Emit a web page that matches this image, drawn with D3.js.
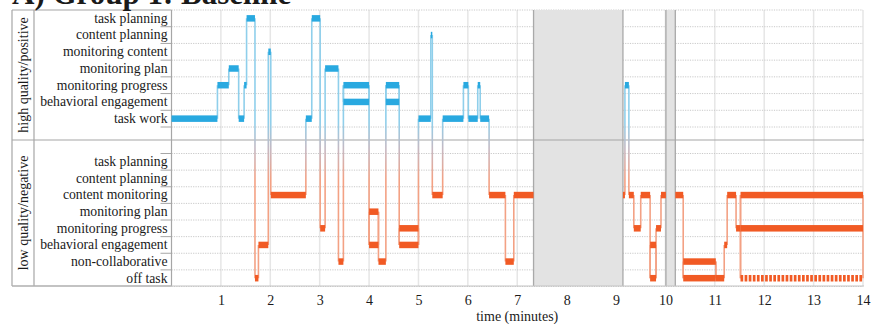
<!DOCTYPE html>
<html><head><meta charset="utf-8">
<script src="https://cdn.jsdelivr.net/npm/d3@7"></script>
<style>
body{margin:0;background:#fff}
svg{display:block}
text{font-family:"Liberation Serif","Times New Roman",Times,serif;fill:#1a1a1a}
</style>
</head><body>
<svg id="chart" width="872" height="324"></svg>
<script>
// ---------------- data ----------------
const title = "A) Group 1: Baseline";
const positiveCategories = ["task planning","content planning","monitoring content","monitoring plan","monitoring progress","behavioral engagement","task work"];
const negativeCategories = ["task planning","content planning","content monitoring","monitoring plan","monitoring progress","behavioral engagement","non-collaborative","off task"];
const panelLabels = ["high quality/positive","low quality/negative"];
const xTickValues = [1,2,3,4,5,6,7,8,9,10,11,12,13,14];
const xLabel = "time (minutes)";
const xDomain = [0,14];
// paused / excluded periods (minutes)
const pauseStart = [7.33, 10.01];
const pauseEnd   = [9.14, 10.20];
// coded segments: P = high quality/positive, N = low quality/negative, "~" = partially coded
const segStart = [0,0.93,1.16,1.36,1.47,1.52,1.69,1.76,1.96,2.01,2.72,2.84,3.01,3.11,3.38,3.48,4.00,4.19,4.34,4.61,5.00,5.25,5.28,5.49,5.91,6.01,6.20,6.25,6.43,6.76,6.93,9.14,9.18,9.26,9.36,9.50,9.69,9.81,9.91,10.20,10.36,11.02,11.19,11.25,11.43,11.52];
const segEnd   = [0.93,1.16,1.36,1.47,1.52,1.69,1.76,1.96,2.01,2.72,2.84,3.01,3.11,3.38,3.48,4.00,4.19,4.34,4.61,5.00,5.25,5.28,5.49,5.91,6.01,6.20,6.25,6.43,6.76,6.93,7.33,9.18,9.26,9.36,9.50,9.69,9.81,9.91,10.01,10.36,11.02,11.19,11.25,11.43,11.52,14];
const segCodes = [
  ["P:task work"],["P:monitoring progress"],["P:monitoring plan"],["P:task work"],["P:monitoring progress"],
  ["P:task planning"],["N:off task"],["N:behavioral engagement"],["P:monitoring content"],["N:content monitoring"],
  ["P:task work"],["P:task planning"],["N:monitoring progress"],["P:monitoring plan"],["N:non-collaborative"],
  ["P:monitoring progress","P:behavioral engagement"],["N:monitoring plan","N:behavioral engagement"],["N:non-collaborative"],
  ["P:monitoring progress","P:behavioral engagement"],["N:monitoring progress","N:behavioral engagement"],
  ["P:task work"],["P:content planning"],["N:content monitoring"],["P:task work"],["P:monitoring progress"],
  ["P:task work"],["P:monitoring progress"],["P:task work"],["N:content monitoring"],["N:non-collaborative"],
  ["N:content monitoring"],
  ["N:content monitoring"],["P:monitoring progress"],["N:content monitoring"],["N:monitoring progress"],["N:content monitoring"],
  ["N:behavioral engagement","N:off task"],["N:monitoring progress"],["N:content monitoring"],
  ["N:content monitoring"],["N:non-collaborative","N:off task"],["N:off task"],["N:behavioral engagement"],
  ["N:content monitoring"],["N:monitoring progress"],["N:content monitoring","N:monitoring progress","N:off task~"]
];

// ---------------- layout ----------------
const svg = d3.select("#chart");
const frameL = 12, sepX = 34, plotL = 171.5, plotR = 863;
const topY0 = 10, topY1 = 127, divY = 140, botY0 = 153.5, botY1 = 286.5, bottomY = 286;
const blue = "#29a9e0", orange = "#f15a24";

const x = d3.scaleLinear().domain(xDomain).range([plotL, plotR]);
const yTop = d3.scaleBand().domain(positiveCategories).range([topY0, topY1]);
const yBot = d3.scaleBand().domain(negativeCategories).range([botY0, botY1]);

function parse(code){
  const partial = code.endsWith("~");
  const c = partial ? code.slice(0,-1) : code;
  const panel = c.slice(0,1), name = c.slice(2);
  const sc = panel === "P" ? yTop : yBot;
  return {panel, name, partial, y: sc(name) + sc.bandwidth()/2};
}
const segments = segStart.map((s,i)=>({start:s, end:segEnd[i], codes:segCodes[i].map(parse)}));

// gradient for connectors
const defs = svg.append("defs");
const grad = defs.append("linearGradient").attr("id","conn").attr("gradientUnits","userSpaceOnUse")
  .attr("x1",0).attr("x2",0).attr("y1",122).attr("y2",180);
grad.append("stop").attr("offset","0%").attr("stop-color","#8fcfeb");
grad.append("stop").attr("offset","50%").attr("stop-color","#c9b7bf");
grad.append("stop").attr("offset","100%").attr("stop-color","#f3a184");

// vertical gridlines
svg.append("g").selectAll("line").data(xTickValues).join("line")
  .attr("x1",d=>x(d)).attr("x2",d=>x(d)).attr("y1",topY0).attr("y2",bottomY)
  .attr("stroke","#e6e6e6").attr("stroke-width",1.5);

// horizontal dotted gridlines (band edges)
const topEdges = positiveCategories.map(c=>yTop(c)).concat([topY1]);
const botEdges = negativeCategories.map(c=>yBot(c)).concat([botY1]);
svg.append("g").selectAll("line").data(topEdges.concat(botEdges)).join("line")
  .attr("x1",plotL).attr("x2",plotR).attr("y1",d=>d).attr("y2",d=>d)
  .attr("stroke","#c9c9c9").attr("stroke-width",1).attr("stroke-dasharray","1.2,1.2");

// pauses
const pg = svg.append("g");
pauseStart.forEach((s,i)=>{
  pg.append("rect").attr("x",x(s)).attr("y",topY0).attr("width",x(pauseEnd[i])-x(s)).attr("height",bottomY-topY0)
    .attr("fill","#e3e3e3");
  [s,pauseEnd[i]].forEach(v=>pg.append("line").attr("x1",x(v)).attr("x2",x(v)).attr("y1",topY0).attr("y2",bottomY)
    .attr("stroke","#a9a9a9").attr("stroke-width",1.3));
});

// frame
const fr = svg.append("g").attr("stroke","#a6a6a6").attr("stroke-width",1.2);
fr.append("line").attr("x1",frameL).attr("x2",frameL).attr("y1",topY0).attr("y2",bottomY);
fr.append("line").attr("x1",sepX).attr("x2",sepX).attr("y1",topY0).attr("y2",bottomY);
fr.append("line").attr("x1",plotL).attr("x2",plotL).attr("y1",topY0).attr("y2",bottomY);
fr.append("line").attr("x1",frameL).attr("x2",plotL).attr("y1",topY0).attr("y2",topY0);
fr.append("line").attr("x1",frameL).attr("x2",plotR+1).attr("y1",divY).attr("y2",divY);
fr.append("line").attr("x1",frameL).attr("x2",plotR+1).attr("y1",bottomY).attr("y2",bottomY).attr("stroke","#c4c4c4");
fr.append("line").attr("x1",frameL).attr("x2",plotL).attr("y1",bottomY).attr("y2",bottomY);
// label tick marks at band edges
svg.append("g").selectAll("line").data(topEdges.slice(1).concat(botEdges.slice(0,-1))).join("line")
  .attr("x1",plotL-11).attr("x2",plotL).attr("y1",d=>d).attr("y2",d=>d)
  .attr("stroke","#a6a6a6").attr("stroke-width",1);

// connectors
const conns = [];
for (let i=1;i<segments.length;i++){
  const p = segments[i-1], n = segments[i];
  if (Math.abs(p.end - n.start) < 1e-6){
    const ys = p.codes.concat(n.codes).map(c=>c.y);
    conns.push({t:n.start, y0:d3.min(ys), y1:d3.max(ys)});
  }
}
segments.forEach(s=>{ if (s.codes.length>1){ const ys=s.codes.map(c=>c.y);
  conns.push({t:s.start,y0:d3.min(ys),y1:d3.max(ys)}); conns.push({t:s.end,y0:d3.min(ys),y1:d3.max(ys)}); }});
svg.append("g").selectAll("line").data(conns).join("line")
  .attr("x1",d=>x(d.t)).attr("x2",d=>x(d.t)+0.01).attr("y1",d=>d.y0).attr("y2",d=>d.y1)
  .attr("stroke","url(#conn)").attr("stroke-width",1.6);

// bars
const barH = 6.5;
const bars = segments.flatMap(s=>s.codes.map(c=>({start:s.start,end:s.end,...c})));
svg.append("g").selectAll("rect").data(bars.filter(b=>!b.partial)).join("rect")
  .attr("x",d=>x(d.start)).attr("width",d=>Math.max(1.5,x(d.end)-x(d.start)))
  .attr("y",d=>d.y-barH/2).attr("height",barH)
  .attr("fill",d=>d.panel==="P"?blue:orange);
svg.append("g").selectAll("line").data(bars.filter(b=>b.partial)).join("line")
  .attr("x1",d=>x(d.start)).attr("x2",d=>x(d.end)).attr("y1",d=>d.y).attr("y2",d=>d.y)
  .attr("stroke",orange).attr("stroke-width",barH).attr("stroke-dasharray","2.7,1.4");

// category labels
const labelFont = 13.7;
function catAxis(scale){
  return d3.axisLeft(scale).tickSize(0).tickPadding(4);
}
[yTop,yBot].forEach(sc=>{
  const g = svg.append("g").attr("transform",`translate(${plotL},0)`).call(catAxis(sc));
  g.select(".domain").remove();
  g.selectAll("text").attr("font-size",labelFont).attr("font-family",null).style("fill","#1a1a1a");
});

// panel labels
svg.append("text").attr("transform",`translate(${(frameL+sepX)/2+5},${(topY0+divY)/2}) rotate(-90)`)
  .attr("text-anchor","middle").attr("font-size",14).text(panelLabels[0]);
svg.append("text").attr("transform",`translate(${(frameL+sepX)/2+5},${(divY+bottomY)/2}) rotate(-90)`)
  .attr("text-anchor","middle").attr("font-size",14).text(panelLabels[1]);

// x axis
const xa = svg.append("g").attr("transform",`translate(0,${bottomY})`)
  .call(d3.axisBottom(x).tickValues(xTickValues).tickSize(0).tickPadding(9).tickFormat(d3.format("d")));
xa.select(".domain").remove();
xa.selectAll("text").attr("font-size",14).attr("font-family",null).style("fill","#1a1a1a");
svg.append("text").attr("x",x(7)).attr("y",321).attr("text-anchor","middle").attr("font-size",14).text(xLabel);

// title (partially cropped at top)
svg.append("text").attr("x",12).attr("y",4).attr("font-size",31).attr("font-weight","bold").text(title);
</script>
</body></html>
